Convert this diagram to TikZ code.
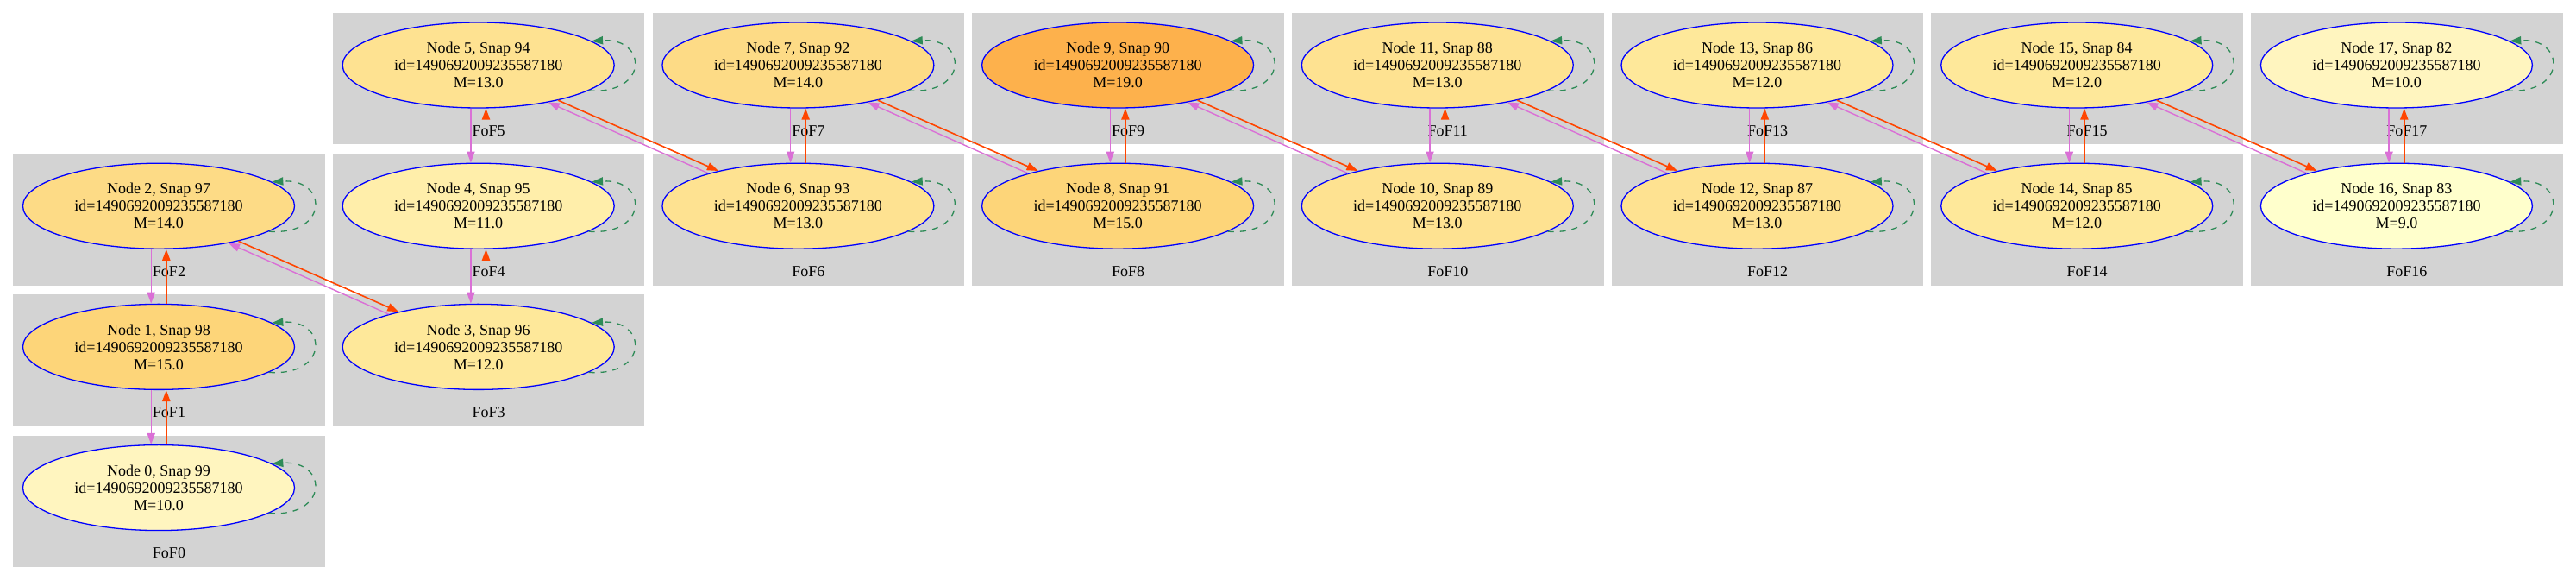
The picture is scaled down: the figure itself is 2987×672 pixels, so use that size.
\documentclass[tikz,border=0pt]{standalone}
\usepackage{fontspec}
\setmainfont{Liberation Serif}
\usetikzlibrary{arrows.meta,shapes.geometric}

\definecolor{fofgray}{HTML}{D3D3D3}
\definecolor{haloblue}{HTML}{0000FF}
\definecolor{progorchid}{HTML}{DA70D6}
\definecolor{descred}{HTML}{FF4500}
\definecolor{loopgreen}{HTML}{2E8B57}
\definecolor{mnine}{HTML}{FFFFCC}
\definecolor{mten}{HTML}{FFF5BF}
\definecolor{meleven}{HTML}{FFEEAA}
\definecolor{mtwelve}{HTML}{FEE89A}
\definecolor{mthirteen}{HTML}{FEE291}
\definecolor{mfourteen}{HTML}{FDDB86}
\definecolor{mfifteen}{HTML}{FDD579}
\definecolor{mnineteen}{HTML}{FDB14C}

\begin{document}
\begin{tikzpicture}[
    x=0.5pt, y=-0.5pt,
    >={Triangle[length=6.5pt, width=4.6pt]},
    font=\fontsize{9pt}{10pt}\selectfont,
    fof/.style={rectangle, fill=fofgray, minimum width=180.75pt, minimum height=76.2pt, inner sep=0pt},
    foflabel/.style={anchor=base, yshift=5.35pt},
    halo/.style={ellipse, draw=haloblue, line width=0.65pt, minimum width=157.5pt, minimum height=49.5pt, inner sep=0pt, align=center},
    progedge/.style={->, draw=progorchid, line width=0.7pt},
    descedge/.style={->, draw=descred, line width=0.8pt},
    selfloop/.style={->, draw=loopgreen, line width=0.65pt, dash pattern=on 3.5pt off 3.5pt}
]
    \useasboundingbox (0,0) rectangle (2987,672);

    % 1. FoF clusters
    \node[fof] (f0) at (196, 580.8) {};     \node[foflabel] at (f0.south) {FoF0};
    \node[fof] (f1) at (196, 417.6) {};     \node[foflabel] at (f1.south) {FoF1};
    \node[fof] (f2) at (196, 254.4) {};     \node[foflabel] at (f2.south) {FoF2};
    \node[fof] (f3) at (566.7, 417.6) {};   \node[foflabel] at (f3.south) {FoF3};
    \node[fof] (f4) at (566.7, 254.4) {};   \node[foflabel] at (f4.south) {FoF4};
    \node[fof] (f5) at (566.7, 91.2) {};    \node[foflabel] at (f5.south) {FoF5};
    \node[fof] (f6) at (937.4, 254.4) {};   \node[foflabel] at (f6.south) {FoF6};
    \node[fof] (f7) at (937.4, 91.2) {};    \node[foflabel] at (f7.south) {FoF7};
    \node[fof] (f8) at (1308.1, 254.4) {};  \node[foflabel] at (f8.south) {FoF8};
    \node[fof] (f9) at (1308.1, 91.2) {};   \node[foflabel] at (f9.south) {FoF9};
    \node[fof] (f10) at (1678.8, 254.4) {}; \node[foflabel] at (f10.south) {FoF10};
    \node[fof] (f11) at (1678.8, 91.2) {};  \node[foflabel] at (f11.south) {FoF11};
    \node[fof] (f12) at (2049.5, 254.4) {}; \node[foflabel] at (f12.south) {FoF12};
    \node[fof] (f13) at (2049.5, 91.2) {};  \node[foflabel] at (f13.south) {FoF13};
    \node[fof] (f14) at (2420.2, 254.4) {}; \node[foflabel] at (f14.south) {FoF14};
    \node[fof] (f15) at (2420.2, 91.2) {};  \node[foflabel] at (f15.south) {FoF15};
    \node[fof] (f16) at (2790.9, 254.4) {}; \node[foflabel] at (f16.south) {FoF16};
    \node[fof] (f17) at (2790.9, 91.2) {};  \node[foflabel] at (f17.south) {FoF17};

    % 2. Halo nodes
    \node[halo, fill=mten] (n0) at (184, 565.1) {Node 0, Snap 99\\id=1490692009235587180\\M=10.0};
    \node[halo, fill=mfifteen] (n1) at (184, 401.9) {Node 1, Snap 98\\id=1490692009235587180\\M=15.0};
    \node[halo, fill=mfourteen] (n2) at (184, 238.7) {Node 2, Snap 97\\id=1490692009235587180\\M=14.0};
    \node[halo, fill=mtwelve] (n3) at (554.7, 401.9) {Node 3, Snap 96\\id=1490692009235587180\\M=12.0};
    \node[halo, fill=meleven] (n4) at (554.7, 238.7) {Node 4, Snap 95\\id=1490692009235587180\\M=11.0};
    \node[halo, fill=mthirteen] (n5) at (554.7, 75.5) {Node 5, Snap 94\\id=1490692009235587180\\M=13.0};
    \node[halo, fill=mthirteen] (n6) at (925.4, 238.7) {Node 6, Snap 93\\id=1490692009235587180\\M=13.0};
    \node[halo, fill=mfourteen] (n7) at (925.4, 75.5) {Node 7, Snap 92\\id=1490692009235587180\\M=14.0};
    \node[halo, fill=mfifteen] (n8) at (1296.1, 238.7) {Node 8, Snap 91\\id=1490692009235587180\\M=15.0};
    \node[halo, fill=mnineteen] (n9) at (1296.1, 75.5) {Node 9, Snap 90\\id=1490692009235587180\\M=19.0};
    \node[halo, fill=mthirteen] (n10) at (1666.8, 238.7) {Node 10, Snap 89\\id=1490692009235587180\\M=13.0};
    \node[halo, fill=mthirteen] (n11) at (1666.8, 75.5) {Node 11, Snap 88\\id=1490692009235587180\\M=13.0};
    \node[halo, fill=mthirteen] (n12) at (2037.5, 238.7) {Node 12, Snap 87\\id=1490692009235587180\\M=13.0};
    \node[halo, fill=mtwelve] (n13) at (2037.5, 75.5) {Node 13, Snap 86\\id=1490692009235587180\\M=12.0};
    \node[halo, fill=mtwelve] (n14) at (2408.2, 238.7) {Node 14, Snap 85\\id=1490692009235587180\\M=12.0};
    \node[halo, fill=mtwelve] (n15) at (2408.2, 75.5) {Node 15, Snap 84\\id=1490692009235587180\\M=12.0};
    \node[halo, fill=mnine] (n16) at (2778.9, 238.7) {Node 16, Snap 83\\id=1490692009235587180\\M=9.0};
    \node[halo, fill=mten] (n17) at (2778.9, 75.5) {Node 17, Snap 82\\id=1490692009235587180\\M=10.0};

    % 3. Links inside a column: orchid down, orange-red up
    \draw[progedge] ([xshift=-4.4pt]n1.south) -- ([xshift=-4.4pt]n0.north);
    \draw[descedge] ([xshift=4.4pt]n0.north) -- ([xshift=4.4pt]n1.south);
    \draw[progedge] ([xshift=-4.4pt]n2.south) -- ([xshift=-4.4pt]n1.north);
    \draw[descedge] ([xshift=4.4pt]n1.north) -- ([xshift=4.4pt]n2.south);
    \draw[progedge] ([xshift=-4.4pt]n4.south) -- ([xshift=-4.4pt]n3.north);
    \draw[descedge] ([xshift=4.4pt]n3.north) -- ([xshift=4.4pt]n4.south);
    \draw[progedge] ([xshift=-4.4pt]n5.south) -- ([xshift=-4.4pt]n4.north);
    \draw[descedge] ([xshift=4.4pt]n4.north) -- ([xshift=4.4pt]n5.south);
    \draw[progedge] ([xshift=-4.4pt]n7.south) -- ([xshift=-4.4pt]n6.north);
    \draw[descedge] ([xshift=4.4pt]n6.north) -- ([xshift=4.4pt]n7.south);
    \draw[progedge] ([xshift=-4.4pt]n9.south) -- ([xshift=-4.4pt]n8.north);
    \draw[descedge] ([xshift=4.4pt]n8.north) -- ([xshift=4.4pt]n9.south);
    \draw[progedge] ([xshift=-4.4pt]n11.south) -- ([xshift=-4.4pt]n10.north);
    \draw[descedge] ([xshift=4.4pt]n10.north) -- ([xshift=4.4pt]n11.south);
    \draw[progedge] ([xshift=-4.4pt]n13.south) -- ([xshift=-4.4pt]n12.north);
    \draw[descedge] ([xshift=4.4pt]n12.north) -- ([xshift=4.4pt]n13.south);
    \draw[progedge] ([xshift=-4.4pt]n15.south) -- ([xshift=-4.4pt]n14.north);
    \draw[descedge] ([xshift=4.4pt]n14.north) -- ([xshift=4.4pt]n15.south);
    \draw[progedge] ([xshift=-4.4pt]n17.south) -- ([xshift=-4.4pt]n16.north);
    \draw[descedge] ([xshift=4.4pt]n16.north) -- ([xshift=4.4pt]n17.south);

    % 4. Links across columns
    \draw[descedge] (n2) -- (n3);
    \draw[progedge] (n3.160) -- (n2.-28);
    \draw[descedge] (n5) -- (n6);
    \draw[progedge] (n6.160) -- (n5.-28);
    \draw[descedge] (n7) -- (n8);
    \draw[progedge] (n8.160) -- (n7.-28);
    \draw[descedge] (n9) -- (n10);
    \draw[progedge] (n10.160) -- (n9.-28);
    \draw[descedge] (n11) -- (n12);
    \draw[progedge] (n12.160) -- (n11.-28);
    \draw[descedge] (n13) -- (n14);
    \draw[progedge] (n14.160) -- (n13.-28);
    \draw[descedge] (n15) -- (n16);
    \draw[progedge] (n16.160) -- (n15.-28);

    % 5. Self loops
    \draw[selfloop] (n0.-13) .. controls +(70,5) and +(65,-4) .. (n0.12);
    \draw[selfloop] (n1.-13) .. controls +(70,5) and +(65,-4) .. (n1.12);
    \draw[selfloop] (n2.-13) .. controls +(70,5) and +(65,-4) .. (n2.12);
    \draw[selfloop] (n3.-13) .. controls +(70,5) and +(65,-4) .. (n3.12);
    \draw[selfloop] (n4.-13) .. controls +(70,5) and +(65,-4) .. (n4.12);
    \draw[selfloop] (n5.-13) .. controls +(70,5) and +(65,-4) .. (n5.12);
    \draw[selfloop] (n6.-13) .. controls +(70,5) and +(65,-4) .. (n6.12);
    \draw[selfloop] (n7.-13) .. controls +(70,5) and +(65,-4) .. (n7.12);
    \draw[selfloop] (n8.-13) .. controls +(70,5) and +(65,-4) .. (n8.12);
    \draw[selfloop] (n9.-13) .. controls +(70,5) and +(65,-4) .. (n9.12);
    \draw[selfloop] (n10.-13) .. controls +(70,5) and +(65,-4) .. (n10.12);
    \draw[selfloop] (n11.-13) .. controls +(70,5) and +(65,-4) .. (n11.12);
    \draw[selfloop] (n12.-13) .. controls +(70,5) and +(65,-4) .. (n12.12);
    \draw[selfloop] (n13.-13) .. controls +(70,5) and +(65,-4) .. (n13.12);
    \draw[selfloop] (n14.-13) .. controls +(70,5) and +(65,-4) .. (n14.12);
    \draw[selfloop] (n15.-13) .. controls +(70,5) and +(65,-4) .. (n15.12);
    \draw[selfloop] (n16.-13) .. controls +(70,5) and +(65,-4) .. (n16.12);
    \draw[selfloop] (n17.-13) .. controls +(70,5) and +(65,-4) .. (n17.12);

\end{tikzpicture}
\end{document}
